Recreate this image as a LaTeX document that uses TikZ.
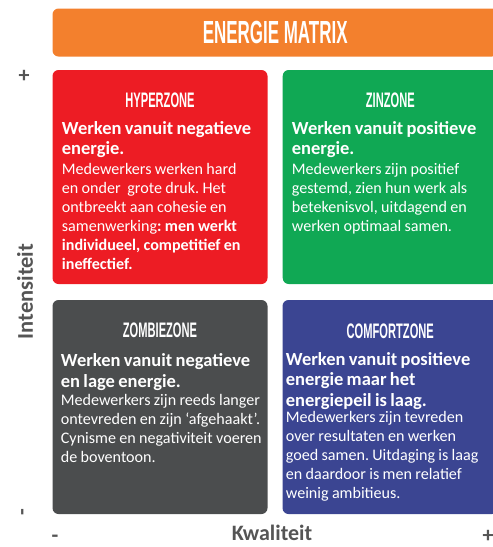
\documentclass[tikz,border=0pt]{standalone}
\usepackage{fontspec}
\setmainfont{Carlito}
\newfontfamily\headfont{Liberation Sans}
\frenchspacing

\definecolor{bannerorange}{HTML}{F3802D}
\definecolor{hyperred}{HTML}{ED1C24}
\definecolor{zingreen}{HTML}{10A854}
\definecolor{zombiegray}{HTML}{4B4D4E}
\definecolor{comfortblue}{HTML}{3B4592}
\definecolor{axisgray}{HTML}{555555}

% condensed capitals for the title and the zone names
\newcommand{\condcaps}[2]{\scalebox{0.53}[1]{\fontsize{#1}{#1}\headfont\bfseries #2}}
\newcommand{\bodybold}{\fontsize{18.5}{20.5}\selectfont\bfseries}
\newcommand{\bodyreg}{\fontsize{16.1}{19}\selectfont\mdseries}

\tikzset{
  zonebox/.style={rounded corners=6pt, draw=none},
  zonetitle/.style={anchor=base, text=white, inner sep=0pt},
  zonetext/.style={anchor=base west, text=white, inner sep=0pt,
                   text width=230pt, align=left},
  axislabel/.style={text=axisgray, inner sep=0pt, font=\fontsize{22.5}{26}\selectfont\bfseries},
  axissign/.style={text=axisgray, inner sep=0pt, font=\fontsize{22}{24}\selectfont\bfseries}
}

\begin{document}
\begin{tikzpicture}[x=1pt, y=-1pt]
  \useasboundingbox (0,0) rectangle (493,547);

  % banner
  \fill[bannerorange, zonebox] (52.5,8.5) rectangle (498,56.5);
  \node[zonetitle] (title) at (275.2,43) {\condcaps{32}{ENERGIE MATRIX}};

  % zone backgrounds
  \fill[hyperred, zonebox]    (52.5,70)  rectangle (267.5,284);
  \fill[zingreen, zonebox]    (282.7,70) rectangle (498,284);
  \fill[zombiegray, zonebox]  (52.5,300) rectangle (267.5,514);
  \fill[comfortblue, zonebox] (282.5,300) rectangle (498,514);

  % HYPERZONE
  \node[zonetitle] (hyperT) at (160,107.5) {\condcaps{21}{HYPERZONE}};
  \node[zonetext] (hyperX) at (61.7,134) {%
    {\bodybold Werken vanuit negatieve\\energie.\par}\vskip1pt
    {\bodyreg Medewerkers werken hard\\en onder\ \ grote druk. Het\\ontbreekt aan cohesie en\\samenwerking\textbf{: men werkt}\\\textbf{individueel, competitief en}\\\textbf{ineffectief.}\par}};

  % ZINZONE
  \node[zonetitle] (zinT) at (390.3,107.5) {\condcaps{21}{ZINZONE}};
  \node[zonetext] (zinX) at (291.7,134) {%
    {\bodybold Werken vanuit positieve\\energie.\par}\vskip1pt
    {\bodyreg Medewerkers zijn positief\\gestemd, zien hun werk als\\betekenisvol, uitdagend en\\werken optimaal samen.\par}};

  % ZOMBIEZONE
  \node[zonetitle] (zombieT) at (160,337.5) {\condcaps{21}{ZOMBIEZONE}};
  \node[zonetext] (zombieX) at (60.7,366.5) {%
    {\bodybold Werken vanuit negatieve\\en lage energie.\par}\vskip-1pt
    {\bodyreg Medewerkers zijn reeds langer\\ontevreden en zijn ‘afgehaakt’.\\Cynisme en negativiteit voeren\\de boventoon.\par}};

  % COMFORTZONE
  \node[zonetitle] (comfortT) at (390.3,338) {\condcaps{21}{COMFORTZONE}};
  \node[zonetext] (comfortX) at (285.7,365) {%
    {\bodybold Werken vanuit positieve\\energie maar het\\energiepeil is laag.\par}\vskip-3pt
    {\bodyreg Medewerkers zijn tevreden\\over resultaten en werken\\goed samen. Uitdaging is laag\\en daardoor is men relatief\\weinig ambitieus.\par}};

  % axes
  \node[axissign] (yplus) at (24,76) {+};
  \node[axislabel, rotate=90] (ylabel) at (25,291.5) {Intensiteit};
  \node[axissign, rotate=90] (yminus) at (25,512.5) {-};
  \node[axissign] (xminus) at (55,539) {-};
  \node[axislabel, anchor=base, font=\fontsize{22}{26}\selectfont\bfseries] (xlabel) at (272,540.5) {Kwaliteit};
  \node[axissign] (xplus) at (488,536) {+};
\end{tikzpicture}
\end{document}
